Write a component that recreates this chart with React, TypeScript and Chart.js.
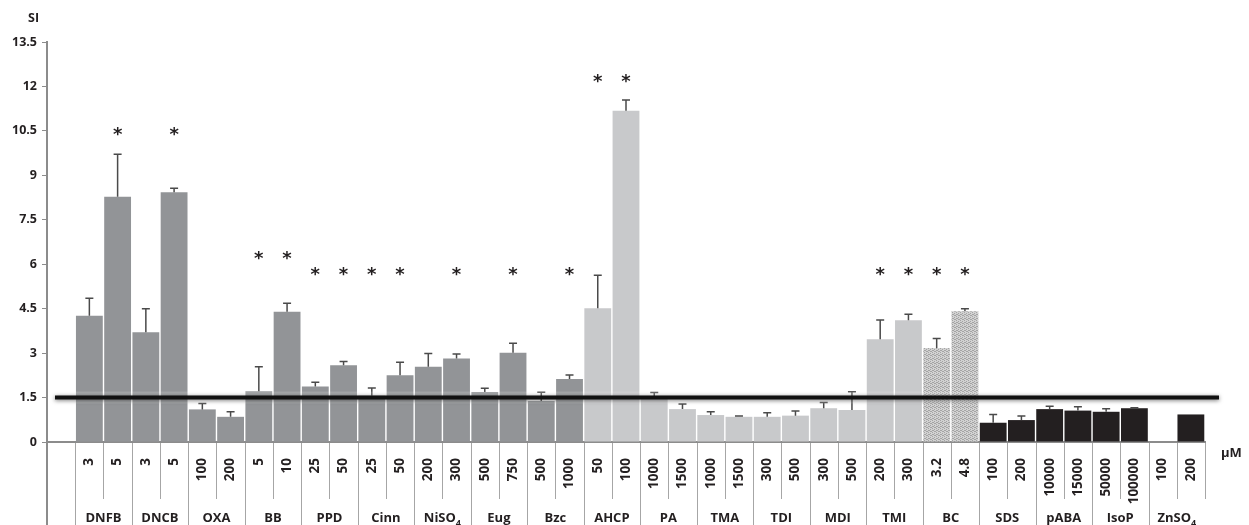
import React, { useEffect, useRef } from 'react';
import { Chart, registerables } from 'chart.js';

Chart.register(...registerables);

// ---- data ----
const groups = ['', 'DNFB', 'DNCB', 'OXA', 'BB', 'PPD', 'Cinn', 'NiSO_4', 'Eug', 'Bzc', 'AHCP', 'PA', 'TMA', 'TDI', 'MDI', 'TMI', 'BC', 'SDS', 'pABA', 'IsoP', 'ZnSO_4'];
const groupTones = ['none', 'dark', 'dark', 'dark', 'dark', 'dark', 'dark', 'dark', 'dark', 'dark', 'light', 'light', 'light', 'light', 'light', 'light', 'pattern', 'black', 'black', 'black', 'black'];
const concentrations = ['', '3', '5', '3', '5', '100', '200', '5', '10', '25', '50', '25', '50', '200', '300', '500', '750', '500', '1000', '50', '100', '1000', '1500', '1000', '1500', '300', '500', '300', '500', '200', '300', '3.2', '4.8', '100', '200', '10000', '15000', '50000', '100000', '100', '200'];
const siValues = [null, 4.26, 8.28, 3.70, 8.43, 1.10, 0.85, 1.71, 4.40, 1.87, 2.59, 1.56, 2.25, 2.54, 2.82, 1.69, 3.01, 1.38, 2.13, 4.51, 11.18, 1.45, 1.11, 0.91, 0.85, 0.85, 0.89, 1.14, 1.08, 3.47, 4.11, 3.17, 4.41, 0.65, 0.74, 1.11, 1.06, 1.02, 1.14, null, 0.93];
const siErrors = [0, 0.59, 1.43, 0.80, 0.13, 0.20, 0.17, 0.83, 0.28, 0.15, 0.13, 0.26, 0.44, 0.45, 0.15, 0.12, 0.32, 0.30, 0.13, 1.12, 0.36, 0.22, 0.17, 0.11, 0.03, 0.14, 0.16, 0.19, 0.62, 0.65, 0.20, 0.32, 0.09, 0.28, 0.14, 0.10, 0.13, 0.10, 0.02, 0, 0];
const starLevels = [null, null, 10.5, null, 10.5, null, null, 6.3, 6.3, 5.77, 5.77, 5.77, 5.77, null, 5.77, null, 5.77, null, 5.77, 12.27, 12.27, null, null, null, null, null, null, null, null, 5.77, 5.77, 5.77, 5.77, null, null, null, null, null, null, null, null];
const yTicks = [0, 1.5, 3, 4.5, 6, 7.5, 9, 10.5, 12, 13.5];
const threshold = 1.5;

const toneColors: Record<string, string> = {
  none: 'rgba(0,0,0,0)',
  dark: '#929497',
  light: '#c8c9cb',
  black: '#231f20',
};

const FONT = "'Open Sans', 'DejaVu Sans', sans-serif";

function makePattern(): CanvasPattern | string {
  const c = document.createElement('canvas');
  c.width = 4;
  c.height = 4;
  const g = c.getContext('2d');
  if (!g) return '#bdbdbd';
  g.fillStyle = '#d2d2d2';
  g.fillRect(0, 0, 4, 4);
  g.fillStyle = '#a4a4a4';
  const dots = [[0, 0], [2, 1], [1, 2], [3, 3], [2, 3], [0, 2]];
  dots.forEach(([x, y]) => g.fillRect(x, y, 1, 1));
  const p = g.createPattern(c, 'repeat');
  return p || '#bdbdbd';
}

const overlayPlugin = {
  id: 'overlay',
  afterDatasetsDraw(chart: any) {
    const ctx = chart.ctx;
    const xs = chart.scales.x;
    const ys = chart.scales.y;
    const meta = chart.getDatasetMeta(0);
    ctx.save();
    // error bars
    siValues.forEach((v, i) => {
      const e = siErrors[i];
      if (v == null || !e) return;
      const bar = meta.data[i];
      const x = bar.x;
      const y0 = ys.getPixelForValue(v);
      const y1 = ys.getPixelForValue(v + e);
      ctx.strokeStyle = '#4a4a4a';
      ctx.lineWidth = 1.5;
      ctx.beginPath();
      ctx.moveTo(x, y0);
      ctx.lineTo(x, y1);
      ctx.moveTo(x - 4, y1);
      ctx.lineTo(x + 4, y1);
      ctx.stroke();
    });
    // stars
    ctx.fillStyle = '#231f20';
    ctx.font = `bold 18px 'DejaVu Sans', sans-serif`;
    ctx.textAlign = 'center';
    ctx.textBaseline = 'middle';
    starLevels.forEach((s, i) => {
      if (s == null) return;
      const x = xs.getPixelForValue(i);
      const y = ys.getPixelForValue(s);
      ctx.fillText('*', x, y + 4);
    });
    // threshold line
    const ty = ys.getPixelForValue(threshold);
    const lx = chart.chartArea.left + 8;
    const rx = chart.chartArea.right + 14;
    ctx.fillStyle = 'rgba(255,255,255,0.18)';
    ctx.fillRect(lx, ty - 6, rx - lx, 12);
    ctx.shadowColor = 'rgba(0,0,0,0.55)';
    ctx.shadowBlur = 4;
    ctx.shadowOffsetY = 1;
    ctx.strokeStyle = '#111111';
    ctx.lineWidth = 4;
    ctx.beginPath();
    ctx.moveTo(lx, ty);
    ctx.lineTo(rx, ty);
    ctx.stroke();
    ctx.restore();
  },
  afterDraw(chart: any) {
    const ctx = chart.ctx;
    const xs = chart.scales.x;
    const area = chart.chartArea;
    const n = concentrations.length;
    const slot = (xs.right - xs.left) / n;
    const H = chart.height;
    ctx.save();
    ctx.strokeStyle = '#a6a6a6';
    ctx.lineWidth = 1;
    for (let b = 1; b <= n; b++) {
      const x = Math.round(xs.left + b * slot) + 0.5;
      const isGroup = b % 2 === 1 && b < n;
      ctx.beginPath();
      ctx.moveTo(x, area.bottom + 1);
      ctx.lineTo(x, isGroup ? H : area.bottom + 57);
      ctx.stroke();
    }
    // y axis extension down through label area
    ctx.strokeStyle = '#8c8c8c';
    ctx.lineWidth = 2;
    ctx.beginPath();
    ctx.moveTo(area.left, area.bottom);
    ctx.lineTo(area.left, H);
    ctx.stroke();

    // group labels
    ctx.fillStyle = '#231f20';
    ctx.textBaseline = 'alphabetic';
    groups.forEach((g, gi) => {
      if (!g) return;
      const i0 = (gi - 1) * 2 + 1;
      const cx = (xs.getPixelForValue(i0) + xs.getPixelForValue(i0 + 1)) / 2;
      const [main, sub] = g.split('_');
      ctx.font = `bold 13px ${FONT}`;
      const wMain = ctx.measureText(main).width;
      let wSub = 0;
      if (sub) {
        ctx.font = `bold 9px ${FONT}`;
        wSub = ctx.measureText(sub).width;
      }
      const start = cx - (wMain + wSub) / 2;
      ctx.textAlign = 'left';
      ctx.font = `bold 13px ${FONT}`;
      ctx.fillText(main, start, 522);
      if (sub) {
        ctx.font = `bold 9px ${FONT}`;
        ctx.fillText(sub, start + wMain, 526);
      }
    });
    // unit and axis title
    ctx.font = `bold 13px ${FONT}`;
    ctx.textAlign = 'left';
    ctx.fillText('\u00b5M', area.right + 16, 457);
    ctx.font = `bold 12.5px ${FONT}`;
    ctx.fillText('SI', 28, 22);
    ctx.restore();
  },
};

export default function App() {
  const ref = useRef<HTMLCanvasElement | null>(null);
  useEffect(() => {
    document.body.style.margin = '0';
    const canvas = ref.current;
    if (!canvas) return;
    const pattern = makePattern();
    const colors = concentrations.map((_, i) => {
      if (i === 0) return toneColors.none;
      const tone = groupTones[Math.floor((i - 1) / 2) + 1];
      return tone === 'pattern' ? pattern : toneColors[tone];
    });
    const chart = new Chart(canvas, {
      type: 'bar',
      data: {
        labels: concentrations,
        datasets: [
          {
            data: siValues as any,
            backgroundColor: colors as any,
            borderWidth: 0,
            barPercentage: 0.95,
            categoryPercentage: 1,
          },
        ],
      },
      options: {
        animation: false,
        responsive: true,
        maintainAspectRatio: false,
        layout: { padding: { top: 42, right: 44, left: 0, bottom: 0 } },
        plugins: { legend: { display: false }, tooltip: { enabled: false } },
        scales: {
          x: {
            offset: true,
            grid: { display: false },
            border: { display: true, color: '#8c8c8c', width: 2 },
            ticks: {
              autoSkip: false,
              maxRotation: 90,
              minRotation: 90,
              padding: 8,
              color: '#231f20',
              font: { family: FONT, size: 13.5, weight: 'bold' },
            },
            afterFit: (s: any) => {
              s.height = 83;
            },
          },
          y: {
            min: 0,
            max: 13.5,
            afterBuildTicks: (s: any) => {
              s.ticks = yTicks.map((v) => ({ value: v }));
            },
            grid: { drawOnChartArea: false, drawTicks: true, tickLength: 5, color: '#8c8c8c' },
            border: { display: true, color: '#8c8c8c', width: 2 },
            ticks: {
              padding: 5,
              color: '#231f20',
              font: { family: FONT, size: 12.5, weight: 'bold' },
            },
            afterFit: (s: any) => {
              s.width = 47;
            },
          },
        },
      },
      plugins: [overlayPlugin],
    });
    return () => chart.destroy();
  }, []);
  return (
    <div style={{ position: 'fixed', left: 0, top: 0, width: 1249, height: 525, background: '#fff' }}>
      <canvas ref={ref} />
    </div>
  );
}
